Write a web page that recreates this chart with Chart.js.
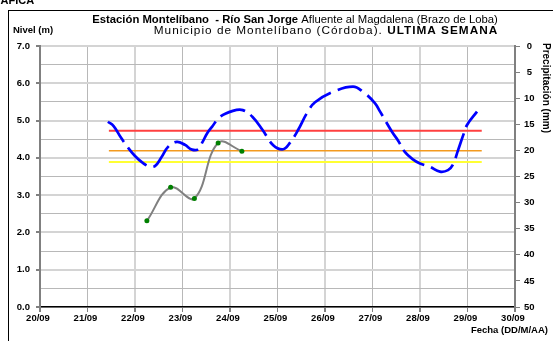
<!DOCTYPE html>
<html>
<head>
<meta charset="utf-8">
<script src="https://cdn.jsdelivr.net/npm/chart.js@4.4.1/dist/chart.umd.min.js"></script>
<style>
  html, body { margin: 0; padding: 0; background: #ffffff; }
  canvas { display: block; }
</style>
</head>
<body>
<canvas id="c" width="553" height="341"></canvas>
<script>
// ---- data (x = days since 20/09 00:00) ----
const dayLabels = ['20/09','21/09','22/09','23/09','24/09','25/09','26/09','27/09','28/09','29/09','30/09'];
const levelX = [1.43,1.55,1.70,1.85,2.00,2.15,2.30,2.42,2.55,2.70,2.88,3.05,3.20,3.33,3.42,3.52,3.62,3.79,4.06,4.27,4.48,4.69,4.91,5.12,5.26,5.43,5.62,5.79,6.17,6.59,6.80,7.05,7.16,7.41,7.54,7.68,7.85,8.00,8.21,8.42,8.59,8.69,8.80,8.91,8.99,9.20];
const levelY = [4.97,4.85,4.55,4.28,4.05,3.88,3.77,3.78,4.00,4.30,4.43,4.35,4.22,4.23,4.42,4.66,4.83,5.10,5.26,5.28,5.09,4.74,4.34,4.23,4.40,4.74,5.20,5.49,5.77,5.91,5.77,5.47,5.24,4.70,4.46,4.16,3.96,3.85,3.76,3.63,3.67,3.81,4.20,4.61,4.88,5.24];
const gaugeX = [2.25,2.75,3.25,3.75,4.25];
const gaugeY = [2.31,3.21,2.91,4.40,4.18];
const thresholdX = [1.45, 9.30];
const redLevel = 4.73;
const orangeLevel = 4.19;
const yellowLevel = 3.89;
const precipTicks = [0,5,10,15,20,25,30,35,40,45,50];

const pts = (xs, ys) => xs.map((x, i) => ({x: x, y: ys[i]}));
const flat = (v) => thresholdX.map(x => ({x: x, y: v}));

const FONT = "'Liberation Sans', Arial, sans-serif";

const decor = {
  id: 'decor',
  beforeDraw(chart) {
    const ctx = chart.ctx;
    ctx.save();
    ctx.fillStyle = '#ffffff';
    ctx.fillRect(0, 0, chart.width, chart.height);
    ctx.restore();
  },
  afterDraw(chart) {
    const ctx = chart.ctx;
    ctx.save();
    // outer frame
    ctx.strokeStyle = '#000000';
    ctx.lineWidth = 1;
    ctx.strokeRect(8.5, 10.5, 700, 500);
    // clipped heading above frame
    ctx.fillStyle = '#000';
    ctx.font = 'bold 11px ' + FONT;
    ctx.textBaseline = 'alphabetic';
    ctx.textAlign = 'left';
    ctx.fillText('GRÁFICA', -16, 4);

    const parts1 = [['bold', 'Estación Montelíbano  - Río San Jorge'], ['normal', ' Afluente al Magdalena (Brazo de Loba)']];
    const parts2 = [['normal', 'Municipio de Montelíbano (Córdoba). '], ['bold', 'ULTIMA SEMANA']];
    const drawParts = (parts, cx, y, size, spacing) => {
      ctx.letterSpacing = spacing + 'px';
      let total = 0;
      parts.forEach(p => { ctx.font = p[0] + ' ' + size + 'px ' + FONT; total += ctx.measureText(p[1]).width; });
      let x = cx - total / 2;
      parts.forEach(p => { ctx.font = p[0] + ' ' + size + 'px ' + FONT; ctx.fillText(p[1], x, y); x += ctx.measureText(p[1]).width; });
      ctx.letterSpacing = '0px';
    };
    ctx.textBaseline = 'middle';
    drawParts(parts1, 295, 19.5, 11.3, 0);
    drawParts(parts2, 326, 31, 11.8, 1.0);

    // axis titles
    ctx.font = 'bold 9.5px ' + FONT;
    ctx.textAlign = 'center';
    ctx.fillText('Nivel (m)', 33, 30);
    ctx.textAlign = 'right';
    ctx.fillText('Fecha (DD/M/AA)', 548, 330);
    ctx.translate(545.5, 88);
    ctx.rotate(Math.PI / 2);
    ctx.textAlign = 'center';
    ctx.font = 'bold 10px ' + FONT;
    ctx.fillText('Precipitación (mm)', 0, 0);
    ctx.restore();
  }
};

const isInt = (v) => Math.abs(v - Math.round(v)) < 1e-6;

new Chart(document.getElementById('c'), {
  type: 'line',
  data: {
    datasets: [
      { label: 'Nivel', data: pts(levelX, levelY), borderColor: '#0000ff', borderWidth: 2.7, borderDash: [26, 7],
        pointRadius: 0, tension: 0.4, fill: false, order: 0, yAxisID: 'y' },
      { label: 'Lecturas', data: pts(gaugeX, gaugeY), borderColor: '#808080', borderWidth: 2, tension: 0.4,
        pointRadius: 2.5, pointBackgroundColor: '#008000', pointBorderColor: '#008000', pointBorderWidth: 0,
        fill: false, order: 1, yAxisID: 'y' },
      { label: 'Roja', data: flat(redLevel), borderColor: '#ff4040', borderWidth: 2, pointRadius: 0, tension: 0, order: 2, yAxisID: 'y' },
      { label: 'Naranja', data: flat(orangeLevel), borderColor: '#f39a1e', borderWidth: 1.6, pointRadius: 0, tension: 0, order: 2, yAxisID: 'y' },
      { label: 'Amarilla', data: flat(yellowLevel), borderColor: '#ffff33', borderWidth: 2, pointRadius: 0, tension: 0, order: 2, yAxisID: 'y' }
    ]
  },
  options: {
    responsive: false,
    animation: false,
    devicePixelRatio: 1,
    layout: { padding: { top: 46, left: 0, right: 0, bottom: 0 } },
    plugins: { legend: { display: false }, title: { display: false }, tooltip: { enabled: false } },
    scales: {
      x: {
        type: 'linear', min: 0, max: 10,
        afterFit(s) { s.height = 34; },
        ticks: { stepSize: 1, autoSkip: false, maxRotation: 0, padding: 1, labelOffset: -2,
          color: '#000', font: { family: FONT, size: 9.5, weight: 'bold' },
          callback: (v) => dayLabels[v] },
        grid: { color: (c) => (c.tick && c.tick.value % 2 === 0) ? '#d4d4d4' : '#b8b8b8',
                lineWidth: (c) => (c.tick && c.tick.value % 2 === 0) ? 2 : 1,
                tickColor: '#808080', tickLength: 5, drawTicks: true },
        border: { color: '#000', width: 1.5 }
      },
      y: {
        position: 'left', min: 0, max: 7,
        afterFit(s) { s.width = 40; },
        ticks: { stepSize: 0.5, autoSkip: false, padding: 6, color: '#000',
          font: { family: FONT, size: 9.5, weight: 'bold' },
          callback: (v) => isInt(v) ? v.toFixed(1) : '' },
        grid: { color: (c) => (c.tick && isInt(c.tick.value)) ? '#d4d4d4' : '#b8b8b8',
                lineWidth: (c) => (c.tick && isInt(c.tick.value)) ? 2 : 1,
                tickColor: (c) => (c.tick && isInt(c.tick.value)) ? '#808080' : 'rgba(0,0,0,0)',
                tickLength: 4 },
        border: { color: '#808080', width: 2 }
      },
      y2: {
        position: 'right', min: 0, max: 50, reverse: true,
        afterFit(s) { s.width = 38; },
        afterBuildTicks(s) { s.ticks = precipTicks.map(v => ({ value: v })); },
        ticks: { stepSize: 5, autoSkip: false, padding: 4, crossAlign: 'center', color: '#000',
          font: { family: FONT, size: 9.5, weight: 'bold' } },
        grid: { drawOnChartArea: false, tickColor: '#808080', tickLength: 5 },
        border: { color: '#808080', width: 2 }
      }
    }
  },
  plugins: [decor]
});
</script>
</body>
</html>
